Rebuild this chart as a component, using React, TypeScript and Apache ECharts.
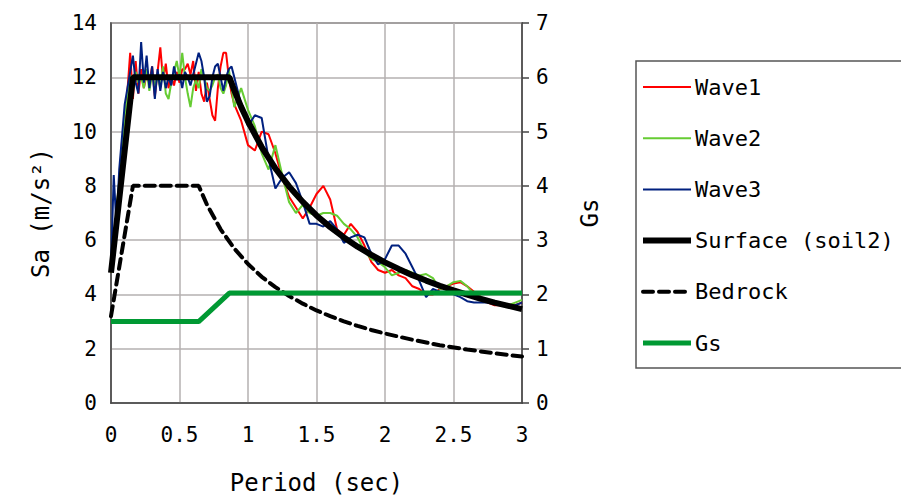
import React, { useEffect, useRef } from "react";
import * as echarts from "echarts";

// Wave periods (sec)
const wavePeriods = [
  0.0, 0.02, 0.04, 0.06, 0.08, 0.1, 0.12, 0.14, 0.16, 0.18, 0.2, 0.22, 0.24, 0.26, 0.28, 0.3,
  0.32, 0.34, 0.36, 0.38, 0.4, 0.42, 0.44, 0.46, 0.48, 0.5, 0.52, 0.54, 0.56, 0.58, 0.6, 0.62,
  0.64, 0.66, 0.68, 0.7, 0.72, 0.74, 0.76, 0.78, 0.8, 0.82, 0.84, 0.86, 0.88, 0.9,
  0.95, 1.0, 1.05, 1.1, 1.15, 1.2, 1.25, 1.3, 1.35, 1.4, 1.45, 1.5, 1.55, 1.6, 1.65, 1.7,
  1.75, 1.8, 1.85, 1.9, 1.95, 2.0, 2.05, 2.1, 2.15, 2.2, 2.25, 2.3, 2.35, 2.4, 2.45, 2.5,
  2.55, 2.6, 2.65, 2.7, 2.75, 2.8, 2.85, 2.9, 2.95, 3.0,
];

const wave1 = [
  4.8, 5.6, 6.8, 8.0, 9.6, 10.0, 11.5, 12.9, 11.2, 12.6, 11.4, 12.3, 11.6, 12.1, 11.8, 12.4,
  11.3, 12.2, 13.1, 11.9, 12.5, 11.6, 12.0, 11.7, 12.2, 11.8, 12.3, 12.3, 12.5, 12.1, 12.6, 11.5,
  12.2, 11.4, 11.1, 11.8, 11.2, 10.6, 10.4, 11.6, 12.4, 12.9, 12.9, 12.0, 11.4, 11.0,
  10.4, 9.5, 9.3, 10.0, 9.9, 9.2, 8.3, 7.6, 7.2, 6.8, 7.2, 7.7, 8.0, 7.5, 6.4, 6.2,
  6.6, 6.3, 5.8, 5.2, 4.9, 4.8, 4.9, 4.7, 4.6, 4.3, 4.2, 4.0, 4.0, 4.2, 4.3, 4.4,
  4.45, 4.3, 4.1, 3.9, 3.7, 3.6, 3.6, 3.6, 3.6, 3.7,
];

const wave2 = [
  4.8, 5.8, 7.0, 8.2, 9.4, 10.6, 11.2, 12.1, 11.5, 12.2, 11.8, 12.0, 11.6, 12.3, 11.5, 12.1,
  11.7, 12.0, 11.6, 12.4, 11.4, 11.2, 11.8, 12.2, 12.6, 12.0, 12.9, 12.0, 11.4, 10.9, 11.6, 11.9,
  11.6, 12.3, 12.0, 11.6, 11.5, 11.7, 12.0, 12.1, 11.6, 11.4, 11.7, 12.3, 11.6, 10.9,
  11.6, 10.8, 10.2, 9.2, 8.6, 9.5, 8.4, 7.4, 7.0, 7.3, 7.0, 6.9, 7.0, 7.0, 6.9, 6.6,
  6.4, 6.1, 5.6, 5.3, 5.2, 5.0, 4.7, 4.8, 4.9, 4.8, 4.7, 4.75, 4.6, 4.2, 4.3, 4.45,
  4.5, 4.3, 4.0, 3.9, 3.8, 3.7, 3.65, 3.6, 3.7, 3.8,
];

const wave3 = [
  5.0, 8.4, 6.5, 8.6, 9.8, 11.0, 11.6, 12.2, 12.8, 11.8, 11.4, 13.3, 11.8, 12.8, 11.6, 12.4,
  11.2, 12.3, 11.5, 12.2, 11.6, 12.0, 11.7, 12.4, 11.9, 12.1, 11.6, 12.2, 12.0, 11.7, 12.1, 12.5,
  12.9, 12.6, 12.0, 11.1, 11.3, 12.0, 12.4, 12.5, 12.0, 11.5, 12.0, 12.3, 12.4, 12.0,
  11.0, 10.2, 10.6, 10.5, 9.0, 7.9, 8.3, 8.5, 8.1, 7.4, 6.6, 6.6, 6.5, 6.7, 6.4, 5.9,
  6.1, 6.2, 6.1, 5.5, 5.1, 5.3, 5.8, 5.8, 5.5, 5.0, 4.5, 3.9, 4.2, 4.1, 4.1, 4.0,
  3.9, 3.75, 3.7, 3.7, 3.7, 3.65, 3.6, 3.55, 3.6, 3.7,
];

const surfacePeriods = [
  0.0, 0.16, 0.864, 0.9, 0.95, 1.0, 1.1, 1.2, 1.3, 1.4, 1.5, 1.6, 1.7, 1.8, 1.9, 2.0, 2.1, 2.2,
  2.3, 2.4, 2.5, 2.6, 2.7, 2.8, 2.9, 3.0,
];
const surfaceSa = [
  4.8, 12.0, 12.0, 11.52, 10.91, 10.37, 9.43, 8.64, 7.98, 7.41, 6.91, 6.48, 6.1, 5.76, 5.46,
  5.18, 4.94, 4.71, 4.51, 4.32, 4.15, 3.99, 3.84, 3.7, 3.58, 3.46,
];

const bedrockPeriods = [
  0.0, 0.16, 0.64, 0.7, 0.8, 0.9, 1.0, 1.1, 1.2, 1.3, 1.4, 1.5, 1.6, 1.7, 1.8, 1.9, 2.0, 2.2,
  2.4, 2.6, 2.8, 3.0,
];
const bedrockSa = [
  3.2, 8.0, 8.0, 7.31, 6.4, 5.69, 5.12, 4.65, 4.27, 3.94, 3.66, 3.41, 3.2, 3.01, 2.84, 2.69,
  2.56, 2.33, 2.13, 1.97, 1.83, 1.71,
];

const gsPeriods = [0.0, 0.64, 0.864, 3.0];
const gsValues = [1.5, 1.5, 2.025, 2.025];

const xTicks = { min: 0, max: 3, interval: 0.5 };
const saTicks = { min: 0, max: 14, interval: 2 };
const gsTicks = { min: 0, max: 7, interval: 1 };

const seriesNames = ["Wave1", "Wave2", "Wave3", "Surface (soil2)", "Bedrock", "Gs"];
const seriesColors = ["#ff0000", "#66cc33", "#00207f", "#000000", "#000000", "#009933"];
const seriesWidths = [2, 2, 2, 6, 4, 5];

const FONT = "DejaVu Sans Mono";

const pairs = (xs: number[], ys: number[]) => xs.map((x, i) => [x, ys[i]]);

export default function App() {
  const ref = useRef<HTMLDivElement>(null);
  useEffect(() => {
    if (!ref.current) return;
    const chart = echarts.init(ref.current, undefined, { renderer: "svg" });
    const axisLabel = { fontFamily: FONT, fontSize: 21, color: "#000" };
    const dashes: any = (i: number) => (i === 4 ? [10, 6] : "solid");

    const legendGraphics: any[] = [
      {
        type: "rect",
        shape: { x: 636, y: 61, width: 300, height: 307 },
        style: { fill: "none", stroke: "#555", lineWidth: 1.5 },
        silent: true,
      },
    ];
    seriesNames.forEach((name, i) => {
      const cy = 87 + i * 51.2;
      legendGraphics.push({
        type: "line",
        shape: { x1: 643, y1: cy, x2: 691, y2: cy },
        style: {
          stroke: seriesColors[i],
          lineWidth: seriesWidths[i],
          lineDash: i === 4 ? [10, 6] : null,
          lineCap: i === 4 ? "round" : "butt",
        },
        silent: true,
      });
      legendGraphics.push({
        type: "text",
        x: 695,
        y: cy,
        style: {
          text: name,
          fontFamily: FONT,
          fontSize: 22,
          fill: "#000",
          verticalAlign: "middle",
          align: "left",
        },
        silent: true,
      });
    });

    const makeSeries = (i: number, xs: number[], ys: number[], extra: any = {}) => ({
      name: seriesNames[i],
      type: "line",
      data: pairs(xs, ys),
      showSymbol: false,
      symbol: "none",
      lineStyle: {
        color: seriesColors[i],
        width: seriesWidths[i],
        type: dashes(i),
        cap: i === 4 ? "round" : "butt",
      },
      itemStyle: { color: seriesColors[i] },
      ...extra,
    });

    chart.setOption({
      animation: false,
      backgroundColor: "#fff",
      textStyle: { fontFamily: FONT },
      grid: {
        left: 111,
        right: 379,
        top: 23,
        bottom: 96,
        show: true,
        borderColor: "#444",
        borderWidth: 1.5,
      },
      xAxis: {
        type: "value",
        ...xTicks,
        name: "Period (sec)",
        nameLocation: "middle",
        nameGap: 68,
        nameTextStyle: { fontFamily: FONT, fontSize: 24, color: "#000" },
        axisLine: { lineStyle: { color: "#444", width: 1.5 } },
        axisTick: { show: false },
        axisLabel: { ...axisLabel, margin: 21 },
        splitLine: { lineStyle: { color: "#b4b0b0", width: 1.5 } },
      },
      yAxis: [
        {
          type: "value",
          ...saTicks,
          name: "Sa (m/s²)",
          nameLocation: "middle",
          nameRotate: 90,
          nameGap: 58,
          nameTextStyle: { fontFamily: FONT, fontSize: 24, color: "#000" },
          axisLine: { show: true, lineStyle: { color: "#444", width: 1.5 } },
          axisTick: { show: false },
          axisLabel: { ...axisLabel, margin: 14 },
          splitLine: { lineStyle: { color: "#b4b0b0", width: 1.5 } },
        },
        {
          type: "value",
          position: "right",
          ...gsTicks,
          name: "Gs",
          nameLocation: "middle",
          nameRotate: 90,
          nameGap: 56,
          nameTextStyle: { fontFamily: FONT, fontSize: 24, color: "#000" },
          axisLine: { show: true, lineStyle: { color: "#444", width: 1.5 } },
          axisTick: { show: true, inside: false, length: 7, lineStyle: { color: "#444", width: 1.5 } },
          axisLabel: { ...axisLabel, margin: 14 },
          splitLine: { show: false },
        },
      ],
      graphic: legendGraphics,
      series: [
        makeSeries(0, wavePeriods, wave1),
        makeSeries(1, wavePeriods, wave2),
        makeSeries(2, wavePeriods, wave3),
        makeSeries(3, surfacePeriods, surfaceSa),
        makeSeries(4, bedrockPeriods, bedrockSa),
        makeSeries(5, gsPeriods, gsValues, { yAxisIndex: 1 }),
      ],
    });
    return () => chart.dispose();
  }, []);
  return <div ref={ref} style={{ width: 901, height: 500, position: "absolute", left: 0, top: 0 }} />;
}
